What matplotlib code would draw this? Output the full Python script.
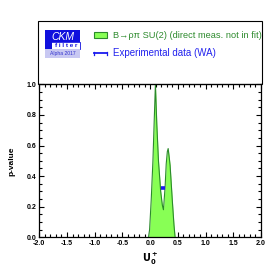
import matplotlib
matplotlib.use("Agg")
import matplotlib.pyplot as plt
from matplotlib.patches import Rectangle
from matplotlib.ticker import MultipleLocator

plt.rcParams['axes.unicode_minus'] = False
FONT = ['Liberation Sans Narrow', 'Liberation Sans', 'DejaVu Sans']

# p-value curve (B -> rho pi SU(2), direct meas. not in fit)
u_vals = [-0.03, -0.01, 0.02, 0.05, 0.075, 0.095, 0.12, 0.15, 0.19, 0.22, 0.24,
          0.27, 0.29, 0.31, 0.325, 0.345, 0.36, 0.40, 0.43, 0.45]
p_vals = [0.0, 0.05, 0.25, 0.50, 0.78, 1.00, 0.74, 0.50, 0.30, 0.21, 0.18,
          0.33, 0.48, 0.56, 0.58, 0.52, 0.47, 0.24, 0.08, 0.0]

# experimental world average
exp_val = 0.23
exp_err = 0.035
exp_p = 0.32

legend_labels = ["B\u2192\u03c1\u03c0 SU(2) (direct meas. not in fit)",
                 "Experimental data (WA)"]
xticks = [-2.0, -1.5, -1.0, -0.5, 0.0, 0.5, 1.0, 1.5, 2.0]
yticks = [0.0, 0.2, 0.4, 0.6, 0.8, 1.0]

W = H = 276
fig = plt.figure(figsize=(2.76, 2.76), dpi=100)
ax = fig.add_axes([39.3 / W, 1 - 237.3 / H, (261 - 39.3) / W, (237.3 - 84.3) / H])

fill_c = '#88ff55'
edge_c = '#2b8a2b'
ax.fill_between(u_vals, p_vals, 0, color=fill_c, lw=0, zorder=2)
ax.plot(u_vals, p_vals, color=edge_c, lw=0.8, zorder=3)
ax.errorbar([exp_val], [exp_p], xerr=[exp_err], fmt='none', ecolor='#1a1aee',
            elinewidth=2.6, capsize=0, zorder=4)

ax.set_xlim(-2, 2)
ax.set_ylim(0, 1)
ax.set_xticks(xticks)
ax.set_yticks(yticks)
ax.set_xticklabels([f"{t:.1f}" for t in xticks])
ax.set_yticklabels([f"{t:.1f}" for t in yticks])
ax.xaxis.set_minor_locator(MultipleLocator(0.1))
ax.yaxis.set_minor_locator(MultipleLocator(0.05))
ax.tick_params(which='both', direction='in', top=True, right=True, width=0.8,
               color='black')
ax.tick_params(which='major', length=3.8, pad=2)
ax.tick_params(which='minor', length=2.0)
for lab in ax.get_xticklabels() + ax.get_yticklabels():
    lab.set_fontfamily(FONT)
    lab.set_fontsize(5)
    lab.set_fontweight('bold')
for s in ax.spines.values():
    s.set_linewidth(0.9)

ax.set_ylabel('p-value', fontsize=6, fontweight='bold', family=FONT, labelpad=8)
ax.set_xlabel(r'$\mathbf{U_0^+}$', fontsize=7, labelpad=3)

# legend frame
fig.patches.append(Rectangle((38 / W, 1 - 84.3 / H), (262 - 38) / W, (84.3 - 21) / H,
                             transform=fig.transFigure, fill=False, ec='black',
                             lw=0.8, zorder=1))

# CKMfitter logo
def frect(x0, y0, x1, y1, **kw):
    fig.patches.append(Rectangle((x0 / W, 1 - y1 / H), (x1 - x0) / W, (y1 - y0) / H,
                                 transform=fig.transFigure, **kw))

frect(45, 30, 80, 42, color='#1010dd', lw=0)
frect(45, 42, 80, 49, color='white', ec='#1010dd', lw=0.6)
frect(45, 42, 52, 49, color='#1010dd', lw=0)
frect(45, 49, 80, 58, color='#c8c8f2', lw=0)
fig.text(62.5 / W, 1 - 36.5 / H, 'CKM', color='white', fontsize=7.5, style='italic',
         family=FONT, ha='center', va='center')
fig.text(66 / W, 1 - 45.5 / H, 'f i l t e r', color='#1010dd', fontsize=4.5,
         family=FONT, ha='center', va='center', fontweight='bold')
fig.text(62.5 / W, 1 - 53.5 / H, 'Alpha 2017', color='#3030cc', fontsize=3.6,
         family=FONT, ha='center', va='center')

# legend entries
frect(94, 32, 107, 38, facecolor=fill_c, ec=edge_c, lw=0.8)
fig.text(113 / W, 1 - 35 / H, legend_labels[0], color='#2e8b2e', fontsize=6.7,
         family=FONT, ha='left', va='center')
fig.lines.append(plt.Line2D([94 / W, 107 / W], [1 - 53 / H, 1 - 53 / H],
                            transform=fig.transFigure, color='#1a1aee', lw=1.3))
for xx in (94, 107):
    fig.lines.append(plt.Line2D([xx / W, xx / W], [1 - 51.5 / H, 1 - 54.5 / H],
                                transform=fig.transFigure, color='#1a1aee', lw=0.9))
fig.text(113 / W, 1 - 53 / H, legend_labels[1], color='#2222ee', fontsize=7,
         family=FONT, ha='left', va='center')

fig.savefig('out.png', dpi=100)
